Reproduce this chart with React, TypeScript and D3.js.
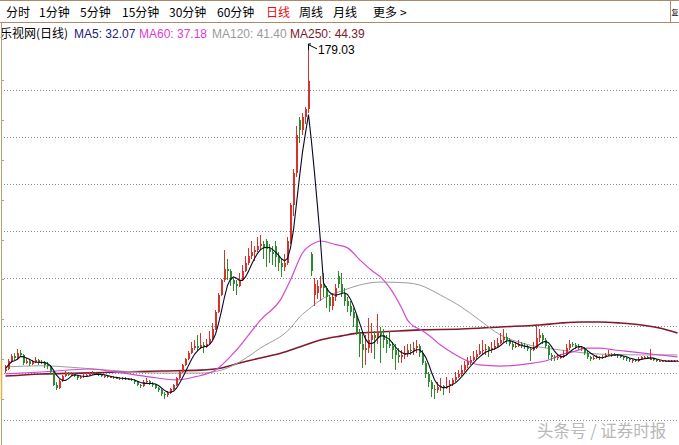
import React from 'react';
import * as d3 from 'd3';

// ---- Candle data (daily, price units) ----
const opens = [
  27.5, 28.5, 32.0, 34.5, 33.5, 36.0, 35.0, 31.0, 32.0, 30.5,
  31.5, 32.5, 31.0, 31.5, 30.0, 29.5, 27.0, 21.0, 19.5, 22.5,
  25.0, 26.5, 25.5, 26.0, 25.0, 24.0, 24.5, 25.0, 25.5, 26.0,
  26.5, 26.0, 25.5, 25.0, 25.0, 24.5, 24.5, 24.0, 24.0, 23.5,
  24.0, 23.5, 23.5, 23.0, 22.0, 21.0, 20.5, 22.0, 22.5, 21.5,
  21.0, 19.5, 18.5, 16.5, 16.0, 17.0, 19.0, 21.0, 24.0, 27.0,
  30.0, 33.0, 36.0, 38.0, 39.0, 38.0, 39.5, 38.5, 40.0, 42.5,
  47.0, 55.0, 63.0, 70.0, 75.0, 74.0, 70.0, 68.0, 67.0, 70.0,
  74.0, 78.0, 81.0, 83.0, 84.0, 86.0, 87.0, 88.0, 84.5, 83.0,
  86.0, 80.5, 78.0, 76.0, 78.0, 88.0, 105.0, 120.0, 145.0, 140.0,
  146.0, 150.0, 82.0, 63.0, 64.0, 66.0, 68.0, 66.0, 62.0, 58.0,
  62.0, 72.0, 68.0, 64.0, 60.0, 58.0, 55.0, 52.0, 45.0, 40.0,
  37.0, 38.0, 42.0, 44.0, 43.0, 46.0, 44.0, 42.0, 40.0, 39.0,
  37.0, 35.0, 34.0, 35.0, 36.0, 37.0, 36.5, 38.0, 39.0, 36.0,
  31.0, 26.0, 22.0, 19.0, 18.5, 20.0, 20.5, 19.5, 20.5, 21.5,
  23.0, 24.5, 26.0, 28.0, 30.0, 31.5, 32.5, 34.0, 35.5, 36.5,
  37.0, 38.5, 37.0, 38.0, 39.0, 40.5, 42.0, 43.5, 42.0, 40.0,
  38.5, 39.0, 40.0, 39.0, 38.5, 37.5, 37.0, 38.0, 43.0, 44.0,
  42.0, 39.0, 35.0, 34.0, 33.5, 34.0, 34.0, 35.0, 38.0, 40.0,
  39.5, 38.5, 38.0, 38.0, 36.0, 34.0, 33.0, 33.5, 34.0, 33.5,
  34.0, 35.0, 35.5, 35.0, 35.0, 34.5, 34.0, 33.5, 33.0, 32.5,
  32.5, 32.0, 33.0, 34.0, 34.0, 33.0, 33.0, 32.5, 32.0, 32.0,
  32.0, 32.0, 32.0, 32.0, 32.0,
];

const highs = [
  30.0, 33.0, 35.5, 36.0, 37.5, 37.0, 35.5, 33.5, 33.0, 32.5,
  34.0, 33.0, 32.5, 32.0, 31.5, 30.0, 27.5, 22.0, 23.5, 25.5,
  27.5, 27.0, 27.0, 26.5, 25.5, 25.5, 26.0, 26.5, 27.0, 27.5,
  27.0, 26.5, 26.0, 25.5, 25.5, 25.0, 25.0, 24.5, 24.5, 24.5,
  24.5, 24.0, 24.0, 23.5, 22.5, 21.5, 23.0, 24.0, 23.0, 22.0,
  21.5, 20.0, 19.0, 17.5, 18.0, 19.5, 21.5, 24.5, 27.5, 30.5,
  33.5, 36.5, 41.0, 42.0, 44.0, 45.0, 41.0, 42.5, 46.0, 50.0,
  56.0, 64.0, 70.5, 84.0, 80.0, 75.0, 71.0, 70.0, 73.0, 77.0,
  81.0, 85.0, 88.0, 86.0, 90.0, 91.0, 88.0, 89.0, 87.0, 86.0,
  88.0, 83.0, 80.0, 82.0, 90.0, 106.0, 122.0, 142.0, 146.0, 148.0,
  151.0, 179.03, 83.0, 71.0, 70.0, 72.0, 73.0, 67.0, 63.0, 64.0,
  68.0, 74.0, 73.0, 66.0, 62.0, 60.0, 57.0, 54.0, 47.0, 45.0,
  44.0, 52.0, 50.0, 46.0, 54.0, 48.0, 47.0, 44.0, 46.0, 41.0,
  40.0, 38.0, 37.0, 39.0, 40.0, 40.0, 41.0, 42.0, 40.0, 37.0,
  32.0, 27.0, 23.0, 21.0, 22.0, 24.0, 21.0, 24.5, 23.0, 24.0,
  27.0, 28.0, 30.0, 32.0, 34.0, 34.5, 36.5, 37.0, 40.0, 42.0,
  40.0, 39.0, 41.0, 42.0, 43.0, 45.0, 47.0, 45.0, 43.0, 41.0,
  41.0, 42.0, 41.0, 40.5, 39.5, 38.5, 41.0, 49.5, 47.0, 45.0,
  43.0, 39.5, 36.0, 35.0, 35.0, 35.5, 37.0, 40.0, 42.0, 41.0,
  40.5, 40.0, 39.0, 38.5, 36.5, 34.5, 34.5, 35.0, 34.5, 35.0,
  36.0, 37.0, 36.0, 36.0, 35.5, 35.0, 34.5, 34.0, 33.5, 33.0,
  33.0, 34.0, 34.5, 34.5, 34.5, 37.5, 33.5, 33.0, 32.5, 32.5,
  32.5, 32.5, 32.5, 32.5, 32.5,
];

const lows = [
  26.5, 28.0, 31.0, 32.5, 33.0, 34.0, 30.0, 30.5, 29.5, 30.0,
  31.0, 30.0, 30.5, 29.0, 28.5, 26.0, 20.5, 18.5, 19.0, 22.0,
  24.5, 25.0, 25.0, 24.5, 23.0, 23.5, 24.0, 24.5, 25.0, 25.5,
  25.5, 25.0, 24.5, 24.0, 24.0, 24.0, 23.5, 23.5, 23.0, 23.0,
  23.0, 23.0, 22.5, 21.5, 20.5, 19.5, 20.0, 21.5, 21.0, 20.0,
  19.0, 17.5, 15.5, 14.5, 15.0, 16.5, 18.5, 20.5, 23.5, 26.5,
  29.5, 32.5, 35.5, 37.0, 36.5, 37.5, 36.0, 38.0, 39.5, 42.0,
  46.5, 54.5, 62.5, 69.0, 70.0, 67.0, 65.0, 63.0, 66.5, 69.5,
  73.5, 77.0, 80.0, 79.0, 83.0, 84.0, 80.0, 76.0, 78.0, 77.0,
  76.0, 74.0, 71.5, 74.0, 77.0, 87.0, 100.0, 118.0, 134.0, 138.0,
  143.0, 148.0, 72.0, 58.0, 61.0, 60.0, 62.0, 57.0, 55.0, 56.0,
  60.0, 66.0, 62.0, 58.0, 55.0, 53.0, 48.0, 44.0, 34.0, 29.0,
  30.0, 36.0, 36.0, 33.0, 40.0, 31.0, 38.0, 36.0, 38.0, 33.0,
  28.0, 31.0, 31.0, 33.0, 34.0, 35.0, 35.0, 36.0, 34.0, 30.0,
  24.0, 20.0, 15.0, 14.3, 17.0, 18.0, 16.0, 19.0, 17.0, 20.5,
  22.0, 24.0, 25.0, 27.0, 29.0, 30.0, 32.0, 33.0, 35.0, 35.5,
  35.0, 34.0, 36.0, 37.0, 38.0, 40.0, 41.0, 40.0, 39.0, 37.0,
  38.0, 38.5, 38.0, 37.5, 36.5, 32.0, 36.5, 37.5, 41.0, 40.0,
  38.0, 33.0, 32.0, 32.0, 32.5, 33.0, 33.5, 34.5, 37.0, 38.5,
  37.5, 37.0, 36.5, 35.0, 33.0, 32.0, 32.5, 33.0, 32.5, 33.0,
  33.5, 34.5, 34.0, 34.5, 33.5, 33.5, 32.5, 32.0, 31.5, 31.0,
  31.5, 31.5, 32.5, 33.0, 33.0, 32.5, 32.0, 31.5, 31.5, 31.5,
  31.5, 31.5, 31.5, 31.5, 31.5,
];

const closes = [
  28.5, 32.0, 34.5, 33.5, 36.0, 35.0, 31.0, 32.0, 30.5, 31.5,
  32.5, 31.0, 31.5, 30.0, 29.5, 27.0, 21.0, 19.5, 22.5, 25.0,
  26.5, 25.5, 26.0, 25.0, 24.0, 24.5, 25.0, 25.5, 26.0, 26.5,
  26.0, 25.5, 25.0, 25.0, 24.5, 24.5, 24.0, 24.0, 23.5, 24.0,
  23.5, 23.5, 23.0, 22.0, 21.0, 20.5, 22.0, 22.5, 21.5, 21.0,
  19.5, 18.5, 16.5, 16.0, 17.0, 19.0, 21.0, 24.0, 27.0, 30.0,
  33.0, 36.0, 38.0, 39.0, 38.0, 39.5, 38.5, 40.0, 42.5, 47.0,
  55.0, 63.0, 70.0, 75.0, 74.0, 70.0, 68.0, 67.0, 70.0, 74.0,
  78.0, 81.0, 83.0, 84.0, 86.0, 87.0, 85.0, 84.5, 83.0, 82.0,
  80.5, 78.0, 76.0, 78.0, 88.0, 105.0, 120.0, 138.0, 140.0, 146.0,
  150.0, 163.0, 74.0, 68.0, 67.0, 68.0, 66.0, 62.0, 58.0, 62.0,
  66.0, 68.0, 64.0, 60.0, 58.0, 55.0, 52.0, 45.0, 40.0, 37.0,
  38.0, 42.0, 44.0, 43.0, 46.0, 44.0, 42.0, 40.0, 39.0, 37.0,
  35.0, 34.0, 35.0, 36.0, 37.0, 36.5, 38.0, 39.0, 36.0, 31.0,
  26.0, 22.0, 19.0, 18.5, 20.0, 20.5, 19.5, 20.5, 21.5, 23.0,
  24.5, 26.0, 28.0, 30.0, 31.5, 32.5, 34.0, 35.5, 36.5, 37.0,
  37.5, 37.0, 38.0, 39.0, 40.5, 42.0, 43.5, 42.0, 40.0, 38.5,
  39.0, 40.0, 39.0, 38.5, 37.5, 37.0, 38.0, 43.0, 44.0, 42.0,
  39.0, 35.0, 34.0, 33.5, 34.0, 34.0, 35.0, 38.0, 40.0, 39.5,
  38.5, 38.0, 38.0, 36.0, 34.0, 33.0, 33.5, 34.0, 33.5, 34.0,
  35.0, 35.5, 35.0, 35.0, 34.5, 34.0, 33.5, 33.0, 32.5, 32.5,
  32.0, 33.0, 34.0, 34.0, 33.5, 33.0, 32.5, 32.0, 32.0, 32.0,
  32.0, 32.0, 32.0, 32.0, 32.1,
];

// ---- Long moving averages (candle index, value) ----
const ma60Idx = [0, 12, 28, 38, 48, 57, 63, 70, 77, 85, 92, 95, 99, 103, 105, 110, 114, 118, 122, 125, 128, 132, 134, 136, 138, 141, 145, 149, 154, 158, 165, 174, 181, 185, 189, 194, 198, 203, 209, 216, 224];
const ma60Val = [26.0, 26.9, 28.3, 26.6, 24.6, 23.2, 24.6, 27.8, 37.2, 51.2, 61.5, 70.0, 82.6, 87.3, 88.2, 86.5, 85.0, 79.5, 74.5, 71.4, 66.5, 57.0, 51.2, 48.4, 47.0, 44.2, 39.5, 35.8, 32.1, 30.2, 29.7, 30.7, 32.5, 34.9, 36.3, 38.1, 38.1, 37.2, 36.3, 35.2, 34.0];

const ma120Idx = [0, 12, 25, 38, 52, 65, 72, 78, 85, 95, 98, 102, 105, 108, 112, 118, 125, 134, 138, 145, 152, 158, 165, 172, 185, 198, 212, 224];
const ma120Val = [29.3, 29.8, 28.8, 27.4, 26.4, 26.4, 27.8, 31.6, 38.1, 47.5, 52.6, 57.3, 60.6, 62.9, 64.8, 67.6, 69.0, 68.6, 67.6, 62.9, 57.3, 51.2, 44.2, 40.5, 37.2, 35.3, 34.9, 34.9];

const ma250Idx = [0, 12, 25, 38, 52, 65, 72, 78, 85, 92, 98, 105, 112, 118, 125, 138, 152, 165, 178, 185, 192, 198, 205, 212, 218, 224];
const ma250Val = [25.0, 26.0, 26.4, 26.9, 27.4, 27.8, 28.8, 31.1, 33.5, 35.8, 38.6, 41.9, 43.8, 45.2, 45.6, 46.6, 47.0, 48.0, 48.9, 49.8, 50.3, 50.3, 49.8, 48.9, 47.5, 45.2];

// ---- Texts ----
const tabLabels = ['分时', '1分钟', '5分钟', '15分钟', '30分钟', '60分钟', '日线', '周线', '月线', '更多', '>'];
const tabX = [6, 39, 80, 122, 169, 217, 266, 299, 333, 373, 400];
const activeTab = '日线';
const cornerLabel = '复';
const legendLabels = ['乐视网(日线)', 'MA5: 32.07', 'MA60: 37.18', 'MA120: 41.40', 'MA250: 44.39'];
const legendX = [0, 74, 139, 212, 290];
const peakLabel = '179.03';
const watermark = '头条号 / 证券时报';

// horizontal reference levels (price units)
const gridLevels = [4.4, 26.5, 48.6, 70.7, 92.8, 114.9, 137.0, 159.1];
const axisTickLevels = [182.5, 163.7, 145.0, 126.3, 107.6, 88.9, 70.2, 51.5, 32.8, 14.1];

const W = 679;
const H = 445;

export default function App() {
  const n = closes.length;
  const x = d3.scaleLinear().domain([0, n - 1]).range([5, 5 + 3 * (n - 1)]);
  const y = d3.scaleLinear().domain([0, 200]).range([429.5, 2.1]);

  const ma5 = closes.map((_, i) => {
    const s = closes.slice(Math.max(0, i - 4), i + 1);
    return d3.mean(s) as number;
  });

  const ma5Line = d3
    .line<number>()
    .x((_, i) => x(i) + 0.5)
    .y((d) => y(d))(ma5) as string;

  const smooth = (idx: number[], vals: number[]) =>
    d3
      .line<number>()
      .curve(d3.curveMonotoneX)
      .x((d) => x(d) + 0.5)
      .y((_, i) => y(vals[i]))(idx) as string;

  const up = '#d8332a';
  const down = '#2a8c2a';
  const font = "'Noto Sans CJK SC', 'Noto Sans', sans-serif";
  const latin = "'Liberation Sans', Arial, sans-serif";
  const legendColors = ['#000000', '#20207a', '#d63cd6', '#9a9a9a', '#7a1a2c'];

  const peakI = highs.indexOf(d3.max(highs) as number);
  const px = Math.round(x(peakI));
  const py = y(highs[peakI]);

  return (
    <svg
      width={W}
      height={H}
      style={{ position: 'fixed', left: 0, top: 0, background: '#fff' }}
      fontFamily={font}
    >
      <rect x={0} y={0} width={W} height={H} fill="#ffffff" />
      {/* top tab bar */}
      <line x1={0} x2={W} y1={0.5} y2={0.5} stroke="#a88c6c" />
      <line x1={0} x2={W} y1={22.5} y2={22.5} stroke="#a88c6c" />
      <line x1={670.5} x2={670.5} y1={0} y2={22} stroke="#a88c6c" />
      {tabLabels.map((t, i) => (
        <text
          key={t}
          x={tabX[i]}
          y={17}
          fontSize={12}
          fill={t === activeTab ? '#e01010' : '#000'}
        >
          {t}
        </text>
      ))}
      <text x={671.5} y={15} fontSize={7} fill="#000">
        {cornerLabel}
      </text>

      {/* legend */}
      {legendLabels.map((t, i) => (
        <text key={t} x={legendX[i]} y={38} fontSize={12} fill={legendColors[i]} fontFamily={i === 0 ? font : latin}>
          {t}
        </text>
      ))}

      {/* left axis */}
      <line x1={1.5} x2={1.5} y1={23} y2={H} stroke="#b89c74" />
      {axisTickLevels.map((v) => (
        <line key={v} x1={1} x2={4} y1={Math.round(y(v)) + 0.5} y2={Math.round(y(v)) + 0.5} stroke="#b89c74" />
      ))}
      <line x1={1.5} x2={1.5} y1={y(ma5[n - 1])} y2={y(ma5[n - 1]) + 38} stroke="#e8b040" strokeWidth={1.5} />

      {/* grid */}
      {gridLevels.map((v) => (
        <line
          key={v}
          x1={4}
          x2={W}
          y1={Math.round(y(v)) + 0.5}
          y2={Math.round(y(v)) + 0.5}
          stroke="#8a8a8a"
          strokeDasharray="1,2"
        />
      ))}

      {/* long MAs */}
      <path d={smooth(ma250Idx, ma250Val)} fill="none" stroke="#80192e" strokeWidth={1.6} />
      <path d={smooth(ma120Idx, ma120Val)} fill="none" stroke="#9c9c9c" strokeWidth={1} />
      <path d={smooth(ma60Idx, ma60Val)} fill="none" stroke="#d448d4" strokeWidth={1.2} />

      {/* candles */}
      <g shapeRendering="crispEdges">
        {closes.map((c, i) => {
          const o = opens[i];
          const cx = Math.round(x(i));
          const col = c >= o ? up : down;
          const yh = y(highs[i]);
          const yl = y(lows[i]);
          const yt = y(Math.max(o, c));
          const yb = y(Math.min(o, c));
          return (
            <g key={i}>
              <rect x={cx} y={yh} width={1} height={Math.max(1, yl - yh)} fill={col} />
              <rect x={cx} y={yt} width={2} height={Math.max(1, yb - yt)} fill={col} />
            </g>
          );
        })}
      </g>

      {/* MA5 */}
      <path d={ma5Line} fill="none" stroke="#0a0a28" strokeWidth={1.1} />

      {/* peak annotation */}
      <path
        d={`M${px + 0.5},${py + 3} L${px + 0.5},${py - 3} L${px + 3},${py - 3} M${px + 1},${py - 2} L${px + 9},${py + 2}`}
        fill="none"
        stroke="#000"
        strokeWidth={1}
      />
      <text x={px + 10} y={py + 7} fontSize={12} fontFamily={latin} fill="#000">
        {peakLabel}
      </text>

      {/* watermark */}
      <text x={537} y={437} fontSize={16.5} fill="#b8b8b8">
        {watermark}
      </text>
    </svg>
  );
}
